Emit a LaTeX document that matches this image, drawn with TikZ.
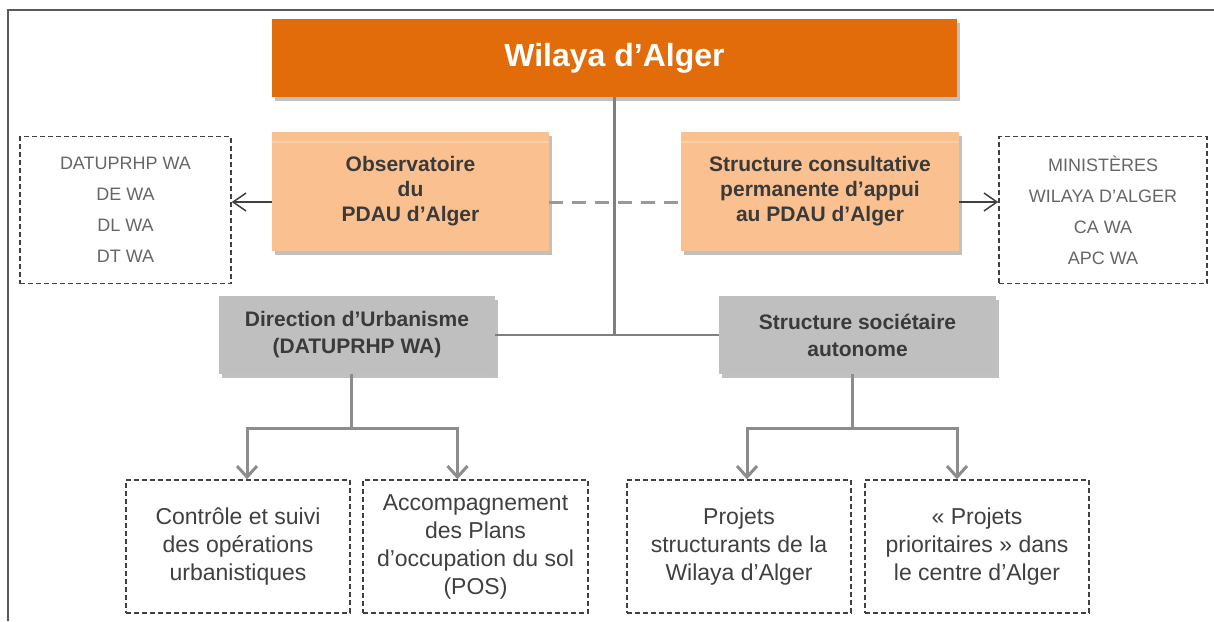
\documentclass[tikz,border=0pt]{standalone}
\usepackage{fontspec}
\setmainfont{Liberation Sans}
\usetikzlibrary{arrows.meta,shadows}
\definecolor{orangeA}{HTML}{E36C0A}
\definecolor{orangeB}{HTML}{FAC08F}
\definecolor{orangeHi}{HTML}{FCD0A8}
\definecolor{grayBox}{HTML}{BFBFBF}
\definecolor{txtDark}{HTML}{3A3A3A}
\definecolor{txtBody}{HTML}{404040}
\definecolor{txtLight}{HTML}{666666}
\definecolor{lineGray}{HTML}{8C8C8C}
\definecolor{trunkGray}{HTML}{7F7F7F}
\definecolor{dashGray}{HTML}{999999}
\definecolor{frameGray}{HTML}{5A5A5A}
\begin{document}
\begin{tikzpicture}[x=1pt,y=-1pt,
  shadowed/.style={drop shadow={shadow xshift=3pt,shadow yshift=-4pt,opacity=.35,fill=black!70}},
  titlebox/.style={shadowed,fill=orangeA,draw=none,minimum width=685pt,minimum height=78pt,inner sep=0pt,
    text=white,font=\bfseries\fontsize{32}{38}\selectfont},
  obox/.style={shadowed,fill=orangeB,draw=none,minimum width=277pt,minimum height=119pt,inner sep=0pt,
    align=center,text=txtDark,font=\bfseries\fontsize{21}{25}\selectfont},
  gbox/.style={shadowed,fill=grayBox,draw=none,minimum width=277pt,minimum height=78pt,inner sep=0pt,
    align=center,text=txtDark,font=\bfseries\fontsize{21}{27}\selectfont},
  sidebox/.style={draw=txtBody,line width=1.5pt,dash pattern=on 5pt off 3pt,fill=white,
    minimum height=147pt,inner sep=0pt,align=center,text=txtLight,font=\fontsize{18}{31}\selectfont},
  botbox/.style={draw=txtBody,line width=1.5pt,dash pattern=on 5pt off 3pt,fill=white,
    minimum width=224pt,minimum height=133pt,inner sep=0pt,align=center,text=txtBody,
    font=\fontsize{23}{28}\selectfont},
  tree/.style={draw=lineGray,line width=3pt},
  treearrow/.style={tree,-{Straight Barb[length=11pt,width=20pt]}},
  sidearrow/.style={draw=txtBody,line width=1.5pt,-{Straight Barb[length=13pt,width=18pt]}},
  trunk/.style={draw=trunkGray,line width=2.5pt},
  linkdash/.style={draw=dashGray,line width=3pt,dash pattern=on 14pt off 9pt}
]
\useasboundingbox (0,0) rectangle (1214,621);
\fill[white] (0,0) rectangle (1214,621);
% frame
\draw[frameGray,line width=2pt] (8,621) -- (8,10) -- (1214,10);

% nodes
\node[titlebox] (title) at (614.5,58) {Wilaya d’Alger};
\node[obox] (obs) at (410.5,191.5) {Observatoire\\du\\PDAU d’Alger};
\node[obox,minimum width=278pt] (cons) at (820,191.5) {Structure consultative\\permanente d’appui\\au PDAU d’Alger};
\draw[orangeHi,line width=2pt] ([yshift=-10pt]obs.north west) -- ([yshift=-10pt]obs.north east);
\draw[orangeHi,line width=2pt] ([yshift=-10pt]cons.north west) -- ([yshift=-10pt]cons.north east);

\node[sidebox,minimum width=211pt] (lbox) at (125.5,210) {DATUPRHP WA\\DE WA\\DL WA\\DT WA};
\node[sidebox,minimum width=208pt] (rbox) at (1103,210) {MINISTÈRES\\WILAYA D’ALGER\\CA WA\\APC WA};

\node[gbox,minimum width=276pt] (dir) at (357,335) {Direction d’Urbanisme\\(DATUPRHP WA)};
\node[gbox] (soc) at (857.5,335) {Structure sociétaire\\autonome};

\node[botbox] (c1) at (238,546.5) {Contrôle et suivi\\des opérations\\urbanistiques};
\node[botbox,minimum width=225pt] (c2) at (475.5,546.5) {Accompagnement\\des Plans\\d’occupation du sol\\(POS)};
\node[botbox] (c3) at (739,546.5) {Projets\\structurants de la\\Wilaya d’Alger};
\node[botbox] (c4) at (977,546.5) {« Projets\\prioritaires » dans\\le centre d’Alger};

% connectors
\draw[trunk] (title.south) -- (title.south |- dir.east);
\draw[trunk] (dir.east) -- (soc.west);
\draw[linkdash] (obs.east |- 0,202) -- (cons.west |- 0,202);
\draw[sidearrow] (obs.west |- 0,202) -- (lbox.east |- 0,202);
\draw[sidearrow] (cons.east |- 0,202) -- (rbox.west |- 0,202);

\coordinate (dj) at (351,428);
\coordinate (sj) at (852,428);
\draw[tree] (dj |- dir.south) -- (dj);
\draw[treearrow] (dj) -| ([xshift=9pt]c1.north);
\draw[treearrow] (dj) -| ([xshift=-18pt]c2.north);
\draw[tree] (sj |- soc.south) -- (sj);
\draw[treearrow] (sj) -| ([xshift=8pt]c3.north);
\draw[treearrow] (sj) -| ([xshift=-20pt]c4.north);
\end{tikzpicture}
\end{document}
